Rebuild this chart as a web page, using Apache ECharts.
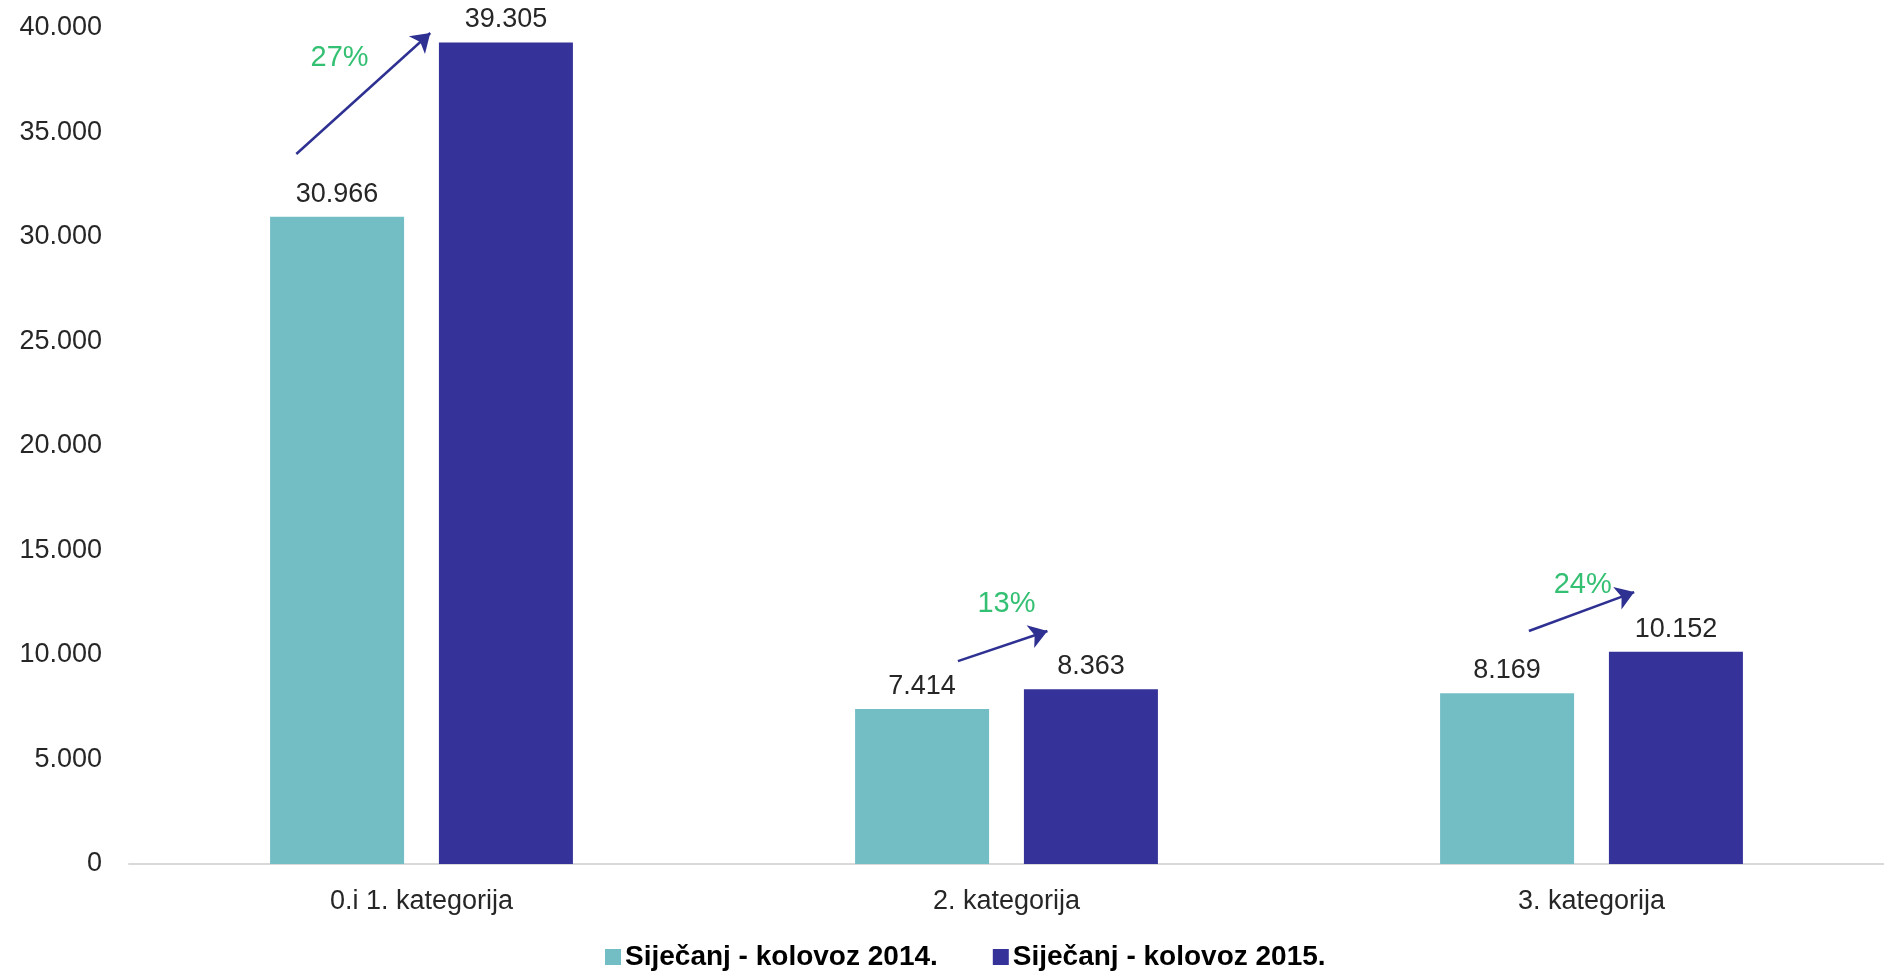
<!DOCTYPE html>
<html>
<head>
<meta charset="utf-8">
<script src="https://cdn.jsdelivr.net/npm/echarts@6/dist/echarts.min.js"></script>
<style>
  html, body { margin: 0; padding: 0; background: #fff; }
  #chart { width: 1884px; height: 971px; }
</style>
</head>
<body>
<div id="chart"></div>
<script>
// Categories and values
const categories = ['0.i 1. kategorija', '2. kategorija', '3. kategorija'];
const seriesNames = ['Siječanj - kolovoz 2014.', 'Siječanj - kolovoz 2015.'];
const values2014 = [30966, 7414, 8169];
const values2015 = [39305, 8363, 10152];
const yTicks = { min: 0, max: 40000, interval: 5000 };

// Growth arrows, placed on a hidden numeric x axis (category i sits at x = i)
const arrowPaths = [
  { from: [-0.214, 33970], to: [0.015, 39760] },
  { from: [0.917, 9710], to: [1.070, 11150] },
  { from: [1.893, 11150], to: [2.073, 13010] }
];
const growthLabelAnchors = [
  [-0.14, 38560],
  [1.0, 12440],
  [1.985, 13350]
];

const fmt = v => String(Math.round(v)).replace(/\B(?=(\d{3})+(?!\d))/g, '.');
const growth = values2015.map((v, i) => Math.round((v / values2014[i] - 1) * 100));

const FONT = '"Liberation Sans", Arial, sans-serif';
const TEAL = '#73BEC5';
const NAVY = '#353399';
const ARROW = '#2E3192';
const GREEN = '#00B050';

const chart = echarts.init(document.getElementById('chart'), null, { renderer: 'canvas' });

const barLabel = {
  show: true, position: 'top', distance: 9,
  fontSize: 27, color: '#262626', fontFamily: FONT,
  formatter: p => fmt(p.value)
};

chart.setOption({
  animation: false,
  textStyle: { fontFamily: FONT },
  grid: { left: 129, top: 28, width: 1764, height: 836, containLabel: false },
  legend: {
    data: seriesNames,
    left: 605,
    top: 943,
    padding: 0,
    icon: 'rect',
    itemWidth: 16,
    itemHeight: 16,
    itemGap: 55,
    textStyle: { fontSize: 28, fontWeight: 'bold', color: '#000', fontFamily: FONT, padding: [0, 0, 0, -1] }
  },
  xAxis: [
    {
      type: 'category',
      data: categories,
      axisLine: { show: true, lineStyle: { color: '#D9D9D9', width: 2 } },
      axisTick: { show: false },
      axisLabel: { fontSize: 27, color: '#262626', margin: 24, fontFamily: FONT },
      splitLine: { show: false }
    },
    {
      type: 'value',
      min: -0.5,
      max: 2.5,
      show: false
    }
  ],
  yAxis: {
    type: 'value',
    min: yTicks.min,
    max: yTicks.max,
    interval: yTicks.interval,
    axisLine: { show: false },
    axisTick: { show: false },
    splitLine: { show: false },
    axisLabel: { fontSize: 27, color: '#262626', margin: 27, fontFamily: FONT, formatter: fmt }
  },
  series: [
    {
      name: seriesNames[0],
      type: 'bar',
      data: values2014,
      barWidth: 134,
      barGap: '26%',
      itemStyle: { color: TEAL },
      label: barLabel
    },
    {
      name: seriesNames[1],
      type: 'bar',
      data: values2015,
      barWidth: 134,
      barGap: '26%',
      itemStyle: { color: NAVY },
      label: barLabel
    },
    {
      name: 'arrows',
      type: 'lines',
      coordinateSystem: 'cartesian2d',
      xAxisIndex: 1,
      yAxisIndex: 0,
      symbol: ['none', 'arrow'],
      symbolSize: [15, 18],
      lineStyle: { color: ARROW, width: 2.5, opacity: 1, curveness: 0 },
      silent: true,
      data: arrowPaths.map(a => ({ coords: [a.from, a.to] }))
    },
    {
      name: 'growth',
      type: 'scatter',
      xAxisIndex: 1,
      yAxisIndex: 0,
      symbolSize: 0,
      silent: true,
      data: growthLabelAnchors,
      label: {
        show: true,
        position: 'inside',
        fontSize: 29,
        color: GREEN,
        fontFamily: FONT,
        formatter: p => growth[p.dataIndex] + '%'
      }
    }
  ]
});
</script>
</body>
</html>
